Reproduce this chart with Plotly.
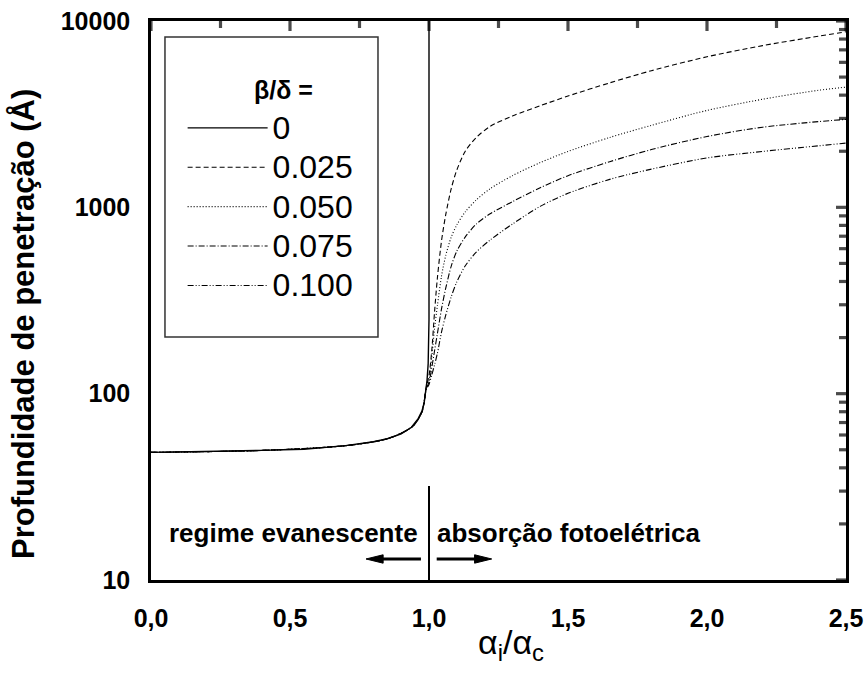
import plotly.graph_objects as go

# ---- data ----
alpha_b0 = [0.0, 0.2, 0.4, 0.55, 0.7, 0.8, 0.85, 0.9, 0.937, 0.961, 0.975, 0.983, 0.989,
            0.993, 0.997, 1.0, 1.0]
depth_b0 = [48.4, 48.8, 49.6, 50.3, 52.6, 55.2, 57.3, 60.8, 66.0, 73.5, 81, 90, 103,
            118, 145, 250, 30000]

alpha_abs = [0.0, 0.4, 0.7, 0.85, 0.94, 0.975, 0.99,
             1.0, 1.01, 1.02, 1.03, 1.045, 1.06, 1.08, 1.1, 1.13, 1.17, 1.22,
             1.3, 1.4, 1.5, 1.65, 1.8, 2.0, 2.2, 2.4, 2.5]
depth_b025 = [48.4, 49.6, 52.6, 57.3, 66.5, 80, 108,
              125, 171, 275, 415, 660, 910, 1260, 1585, 1995, 2370, 2720,
              3090, 3510, 3955, 4656, 5410, 6427, 7379, 8279, 8750]
depth_b050 = [48.4, 49.6, 52.6, 57.3, 66.5, 80, 107,
              117, 158, 224, 295, 427, 550, 692, 804, 944, 1096, 1259,
              1479, 1738, 1995, 2371, 2754, 3311, 3802, 4246, 4416]
depth_b075 = [48.4, 49.6, 52.6, 57.3, 66.5, 80, 106,
              115, 138, 170, 209, 285, 367, 484, 582, 692, 813, 923,
              1072, 1274, 1479, 1758, 2042, 2399, 2692, 2884, 2965]
depth_b100 = [48.4, 49.6, 52.6, 57.3, 66.5, 80, 105,
              112, 126, 143, 164, 214, 263, 331, 398, 484, 575, 668,
              813, 1012, 1189, 1413, 1603, 1841, 1995, 2138, 2213]

series_labels = ["0", "0.025", "0.050", "0.075", "0.100"]
series_dash = ["solid", "5px,3px", "1px,2px", "6px,2px,1px,2px", "6px,2px,1px,2px,1px,2px"]

x_range = [0.0, 2.5]
y_range_log = [1, 4]
x_major = [0.0, 0.5, 1.0, 1.5, 2.0, 2.5]
x_major_text = ["0,0", "0,5", "1,0", "1,5", "2,0", "2,5"]
x_minor = [0.25, 0.75, 1.25, 1.75, 2.25]
y_major = [10, 100, 1000, 10000]
y_major_text = ["10", "100", "1000", "10000"]
y_minor = [m * 10 ** d for d in (1, 2, 3) for m in range(2, 10)]

FONT = "Arial, 'Liberation Sans', sans-serif"
W_PLOT, H_PLOT = 866 - 151 - 20, 686 - 21 - 106
PX_PER_X = W_PLOT / (x_range[1] - x_range[0])
PX_PER_DECADE = H_PLOT / (y_range_log[1] - y_range_log[0])

fig = go.Figure()
series = [(alpha_b0, depth_b0), (alpha_abs, depth_b025), (alpha_abs, depth_b050),
          (alpha_abs, depth_b075), (alpha_abs, depth_b100)]
for i, ((xs, ys), lab, dash) in enumerate(zip(series, series_labels, series_dash)):
    fig.add_trace(go.Scatter(
        x=xs, y=ys, mode="lines",
        name=f"<span style='font-size:32px'>{lab}</span>", legendgroup=lab,
        line=dict(color="black", width=1.4 if i == 0 else 1.1, dash=dash,
                  shape="linear" if i == 0 else "spline", smoothing=0.8),
    ))

# frame tick marks: outward on bottom/left, inward on top/right (line markers, unclipped)
MAJ_LEN, MIN_LEN = 10, 7
tx, ty, tsize = [], [], []
for vals, length in ((x_major, MAJ_LEN), (x_minor, MIN_LEN)):
    half = (length / 2) / PX_PER_DECADE
    for v in vals:
        tx += [v, v]
        ty += [10 ** (y_range_log[0] - half), 10 ** (y_range_log[1] - half)]
        tsize += [length / 1.4] * 2
fig.add_trace(go.Scatter(x=tx, y=ty, mode="markers", showlegend=False, hoverinfo="skip",
                         cliponaxis=False,
                         marker=dict(symbol="line-ns", size=tsize, color="black",
                                     line=dict(color="black", width=3.2))))
ux, uy, usize = [], [], []
for vals, length in ((y_major, MAJ_LEN), (y_minor, MIN_LEN)):
    half = (length / 2) / PX_PER_X
    for v in vals:
        ux += [x_range[0] - half, x_range[1] - half]
        uy += [v, v]
        usize += [length / 1.4] * 2
fig.add_trace(go.Scatter(x=ux, y=uy, mode="markers", showlegend=False, hoverinfo="skip",
                         cliponaxis=False,
                         marker=dict(symbol="line-ew", size=usize, color="black",
                                     line=dict(color="black", width=3.2))))

fig.update_layout(
    width=866, height=686,
    margin=dict(l=151, r=20, t=21, b=106),
    paper_bgcolor="white", plot_bgcolor="white",
    font=dict(family=FONT, color="black"),
    showlegend=True,
    legend=dict(x=0.0455, y=0.853, xanchor="left", yanchor="top",
                bgcolor="rgba(0,0,0,0)", borderwidth=0,
                font=dict(size=28, family=FONT), itemwidth=80,
                tracegroupgap=0, traceorder="normal"),
    xaxis=dict(range=x_range, showline=True, mirror=True, linecolor="black", linewidth=2.5,
               showgrid=False, zeroline=False, automargin=False,
               ticks="outside", ticklen=14, tickwidth=2.5, tickcolor="rgba(0,0,0,0)",
               tickmode="array", tickvals=x_major, ticktext=x_major_text,
               tickfont=dict(size=25, family=FONT, weight="bold")),
    yaxis=dict(type="log", range=y_range_log, showline=True, mirror=True, linecolor="black",
               linewidth=2.5, showgrid=False, zeroline=False, automargin=False,
               ticks="outside", ticklen=13, tickwidth=2.5, tickcolor="rgba(0,0,0,0)",
               tickmode="array", tickvals=y_major, ticktext=y_major_text,
               tickfont=dict(size=25, family=FONT, weight="bold")),
)

# axis titles
fig.add_annotation(text="Profundidade de penetração (Å)", xref="paper", yref="paper",
                   x=-0.1827, y=0.458, textangle=-90, xanchor="center", yanchor="middle",
                   showarrow=False, font=dict(size=31, family=FONT, weight="bold"))
fig.add_annotation(text="α<sub>i</sub>/α<sub>c</sub>", xref="paper", yref="paper",
                   x=0.518, y=-0.116, xanchor="center", yanchor="middle",
                   showarrow=False, font=dict(size=34, family=FONT))

# legend frame and heading
fig.add_shape(type="rect", xref="paper", yref="paper", x0=0.0201, x1=0.3266, y0=0.4347, y1=0.9714,
              line=dict(color="#333333", width=1.5), fillcolor="rgba(0,0,0,0)")
fig.add_annotation(text="β/δ =", xref="paper", yref="paper", x=0.191, y=0.8766,
                   xanchor="center", yanchor="middle",
                   showarrow=False, font=dict(size=25, family=FONT, weight="bold"))

# critical-angle separator and region labels
fig.add_shape(type="line", xref="x", yref="paper", x0=1.0, x1=1.0, y0=0, y1=0.168,
              line=dict(color="black", width=2))
fig.add_annotation(text="regime evanescente", xref="x", yref="paper", x=0.511, y=0.084,
                   xanchor="center", yanchor="middle",
                   showarrow=False, font=dict(size=26, family=FONT, weight="bold"))
fig.add_annotation(text="absorção fotoelétrica", xref="x", yref="paper", x=1.502, y=0.084,
                   xanchor="center", yanchor="middle",
                   showarrow=False, font=dict(size=26, family=FONT, weight="bold"))

# arrows (shaft + head)
ya, dh = 0.0376, 0.0075
fig.add_shape(type="line", xref="x", yref="paper", x0=0.80, x1=0.971, y0=ya, y1=ya,
              line=dict(color="black", width=3))
fig.add_shape(type="path", xref="x", yref="paper",
              path=f"M 0.7734,{ya} L 0.835,{ya + dh} L 0.835,{ya - dh} Z",
              line=dict(color="black", width=1), fillcolor="black")
fig.add_shape(type="line", xref="x", yref="paper", x0=1.0277, x1=1.20, y0=ya, y1=ya,
              line=dict(color="black", width=3))
fig.add_shape(type="path", xref="x", yref="paper",
              path=f"M 1.2255,{ya} L 1.164,{ya + dh} L 1.164,{ya - dh} Z",
              line=dict(color="black", width=1), fillcolor="black")

fig.write_html("out.html")
